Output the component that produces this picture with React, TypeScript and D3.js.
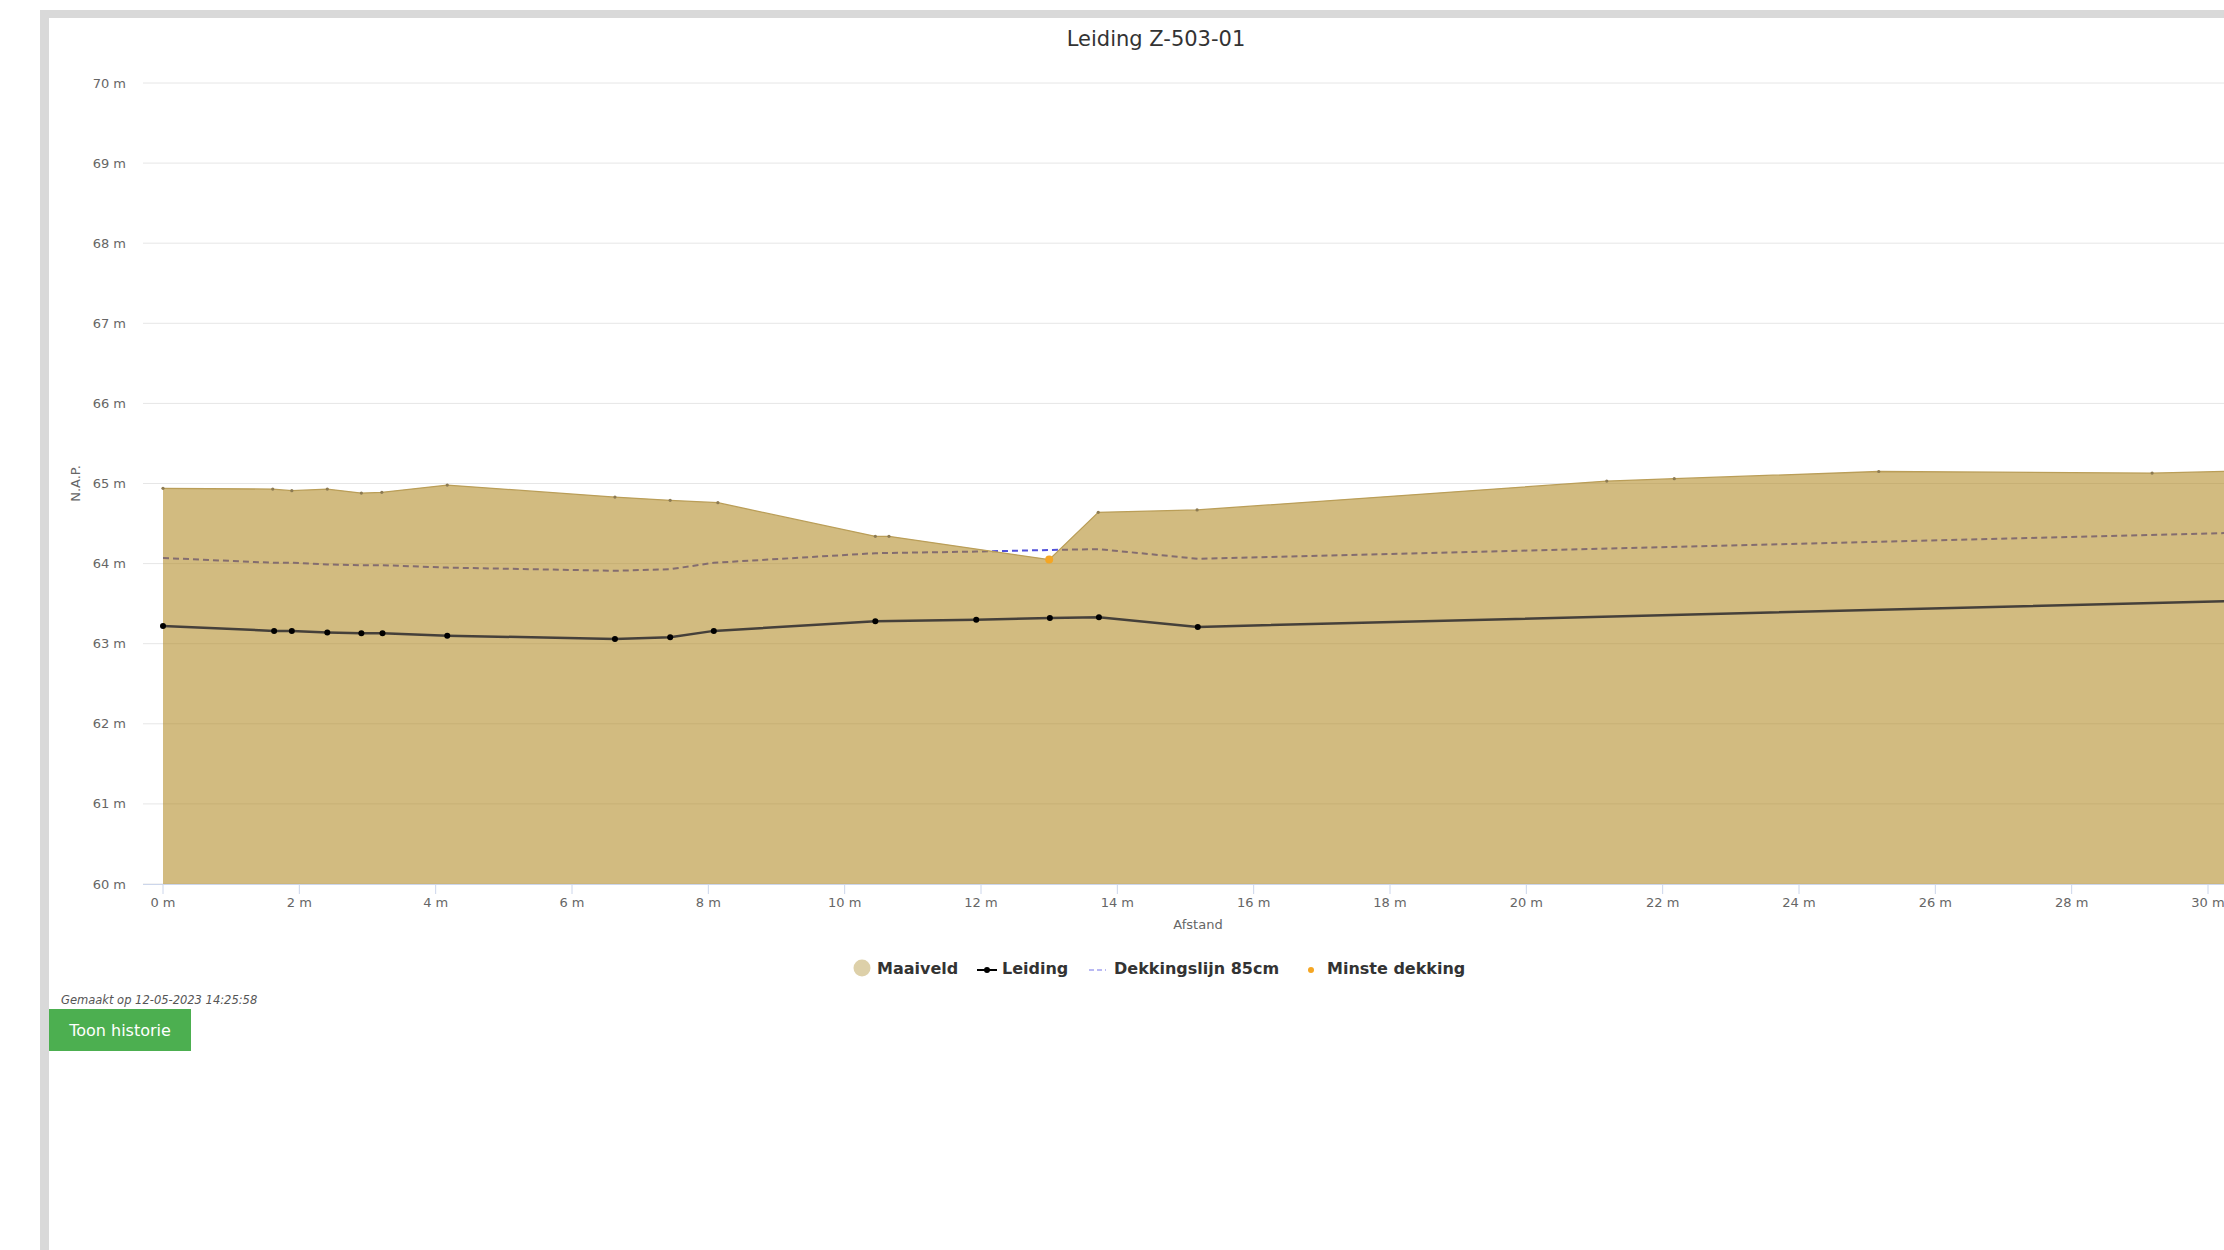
import React from "react";
import * as d3 from "d3";

// ---- data ----
const maaiveldX = [0, 1.61, 1.89, 2.41, 2.91, 3.21, 4.17, 6.63, 7.44, 8.14, 10.45, 10.65, 13.0, 13.72, 15.17, 21.18, 22.17, 25.17, 29.18, 30.67];
const maaiveldY = [64.94, 64.93, 64.91, 64.93, 64.88, 64.89, 64.98, 64.83, 64.79, 64.76, 64.34, 64.34, 64.05, 64.64, 64.67, 65.03, 65.06, 65.15, 65.13, 65.16];

const leidingX = [0, 1.63, 1.89, 2.41, 2.91, 3.22, 4.17, 6.63, 7.44, 8.08, 10.45, 11.93, 13.01, 13.73, 15.18, 30.67];
const leidingY = [63.22, 63.16, 63.16, 63.14, 63.13, 63.13, 63.1, 63.06, 63.08, 63.16, 63.28, 63.3, 63.32, 63.33, 63.21, 63.54];
const dekkingY = [64.07, 64.01, 64.01, 63.99, 63.98, 63.98, 63.95, 63.91, 63.93, 64.01, 64.13, 64.15, 64.17, 64.18, 64.06, 64.39];

const minsteX = [13.0];
const minsteY = [64.05];

const xTicks = [0, 2, 4, 6, 8, 10, 12, 14, 16, 18, 20, 22, 24, 26, 28, 30];
const yTicks = [60, 61, 62, 63, 64, 65, 66, 67, 68, 69, 70];

const title = "Leiding Z-503-01";
const xTitle = "Afstand";
const yTitle = "N.A.P.";
const legendItems = ["Maaiveld", "Leiding", "Dekkingslijn 85cm", "Minste dekking"];
const madeOn = "Gemaakt op 12-05-2023 14:25:58";
const buttonLabel = "Toon historie";

const FONT = "'DejaVu Sans', sans-serif";

export default function App() {
  const W = 2224;
  const H = 1250;
  const plotLeft = 143;
  const plotRight = 2253;
  const x = d3.scaleLinear().domain([0, 30]).range([163, 2208]);
  const y = d3.scaleLinear().domain([60, 70]).range([884, 83]);

  const ground = maaiveldX.map((v, i) => [v, maaiveldY[i]] as [number, number]);
  const leiding = leidingX.map((v, i) => [v, leidingY[i]] as [number, number]);
  const dekking = leidingX.map((v, i) => [v, dekkingY[i]] as [number, number]);

  const areaGen = d3
    .area<[number, number]>()
    .x((d) => x(d[0]))
    .y0(y(60))
    .y1((d) => y(d[1]));
  const lineGen = d3
    .line<[number, number]>()
    .x((d) => x(d[0]))
    .y((d) => y(d[1]));

  const legendY = 968;

  return (
    <svg
      width={W}
      height={H}
      style={{ position: "absolute", left: 0, top: 0, display: "block", background: "#fff" }}
      fontFamily={FONT}
    >
      {/* frame */}
      <rect x={40} y={10} width={W - 40} height={8} fill="#d9d9d9" />
      <rect x={40} y={10} width={9} height={H - 10} fill="#d9d9d9" />

      {/* title */}
      <text x={1156} y={46} textAnchor="middle" fontSize={21} fill="#333">
        {title}
      </text>

      {/* grid */}
      {yTicks.map((t) => (
        <line key={"g" + t} x1={plotLeft} x2={plotRight} y1={y(t)} y2={y(t)} stroke="#e6e6e6" strokeWidth={1} />
      ))}
      {yTicks.map((t) => (
        <text key={"yl" + t} x={126} y={y(t) + 4.5} textAnchor="end" fontSize={13} fill="#666">
          {t + " m"}
        </text>
      ))}
      <text
        x={0}
        y={0}
        transform={`translate(80,${(y(60) + y(70)) / 2}) rotate(-90)`}
        textAnchor="middle"
        fontSize={13}
        fill="#666"
      >
        {yTitle}
      </text>

      {/* dekkingslijn (below the translucent ground) */}
      <path d={lineGen(dekking) || ""} fill="none" stroke="#5252da" strokeWidth={2} strokeDasharray="6,4" />

      {/* maaiveld area */}
      <path d={areaGen(ground) || ""} fill="rgb(173,131,24)" fillOpacity={0.55} stroke="none" />
      <path d={lineGen(ground) || ""} fill="none" stroke="rgb(186,158,88)" strokeWidth={1.3} />
      {ground.slice(0, -1).map((d, i) => (
        <circle key={"gm" + i} cx={x(d[0])} cy={y(d[1])} r={1.6} fill="#8c7a52" />
      ))}

      {/* leiding */}
      <path d={lineGen(leiding) || ""} fill="none" stroke="#45403a" strokeWidth={2.5} />
      {leiding.slice(0, -1).map((d, i) => (
        <circle key={"lm" + i} cx={x(d[0])} cy={y(d[1])} r={3} fill="#000" />
      ))}

      {/* minste dekking */}
      {minsteX.map((v, i) => (
        <circle key={"md" + i} cx={x(v)} cy={y(minsteY[i])} r={4} fill="#f5a623" />
      ))}

      {/* x axis */}
      <line x1={plotLeft} x2={plotRight} y1={884.5} y2={884.5} stroke="#ccd6eb" strokeWidth={1} />
      {xTicks.map((t) => (
        <g key={"xt" + t}>
          <line x1={x(t)} x2={x(t)} y1={885} y2={894} stroke="#ccd6eb" strokeWidth={1} />
          <text x={x(t)} y={907} textAnchor="middle" fontSize={13} fill="#666">
            {t + " m"}
          </text>
        </g>
      ))}
      <text x={1198} y={929} textAnchor="middle" fontSize={13} fill="#666">
        {xTitle}
      </text>

      {/* legend */}
      <circle cx={862} cy={legendY} r={8.5} fill="#ddd0a9" />
      <text x={877} y={legendY + 6} fontSize={16} fontWeight="bold" fill="#333">
        {legendItems[0]}
      </text>
      <line x1={977} x2={997} y1={legendY + 2} y2={legendY + 2} stroke="#000" strokeWidth={2} />
      <circle cx={987} cy={legendY + 2} r={3} fill="#000" />
      <text x={1002} y={legendY + 6} fontSize={16} fontWeight="bold" fill="#333">
        {legendItems[1]}
      </text>
      <line x1={1089} x2={1106} y1={legendY + 2} y2={legendY + 2} stroke="#a3a3f0" strokeWidth={1.6} strokeDasharray="5,3" />
      <text x={1114} y={legendY + 6} fontSize={16} fontWeight="bold" fill="#333">
        {legendItems[2]}
      </text>
      <circle cx={1311} cy={legendY + 2} r={3} fill="#f5a623" />
      <text x={1327} y={legendY + 6} fontSize={16} fontWeight="bold" fill="#333">
        {legendItems[3]}
      </text>

      {/* footer */}
      <text x={61} y={1004} fontSize={11.5} fontStyle="italic" fill="#555">
        {madeOn}
      </text>
      <rect x={49} y={1009} width={142} height={42} fill="#4caf50" />
      <text x={120} y={1036} textAnchor="middle" fontSize={16} fill="#fff">
        {buttonLabel}
      </text>
    </svg>
  );
}
